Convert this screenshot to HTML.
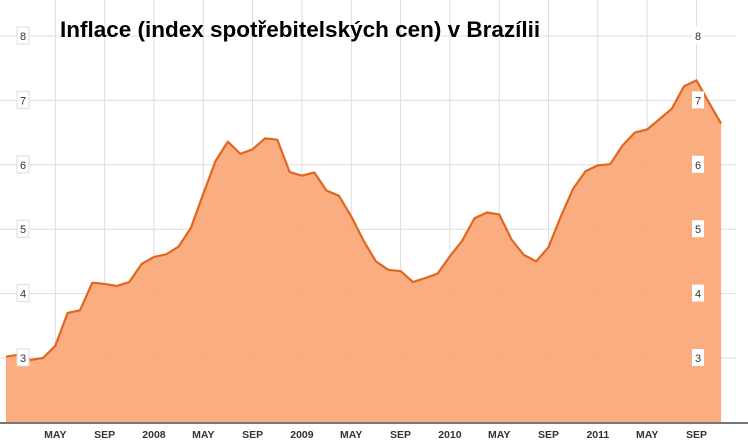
<!DOCTYPE html>
<html><head><meta charset="utf-8"><style>
body{margin:0;background:#fff;width:748px;height:443px;overflow:hidden}
svg{display:block;font-family:"Liberation Sans",Arial,sans-serif}
</style></head><body>
<svg id="c" width="748" height="443"></svg>
<script>
const values=[3.02,3.05,2.97,3.0,3.19,3.70,3.74,4.17,4.15,4.12,4.18,4.46,4.57,4.61,4.73,5.02,5.55,6.06,6.36,6.17,6.24,6.41,6.39,5.89,5.83,5.88,5.60,5.52,5.20,4.82,4.50,4.37,4.35,4.18,4.24,4.31,4.58,4.82,5.17,5.26,5.23,4.84,4.60,4.50,4.72,5.20,5.63,5.90,5.99,6.01,6.30,6.50,6.55,6.71,6.87,7.22,7.31,6.97,6.64];
const yTicks=[3,4,5,6,7,8];
const xTickIdx=[4,8,12,16,20,24,28,32,36,40,44,48,52,56];
const xTickLabels=["MAY","SEP","2008","MAY","SEP","2009","MAY","SEP","2010","MAY","SEP","2011","MAY","SEP"];
const titleText="Inflace (index spotřebitelských cen) v Brazílii";

const NS="http://www.w3.org/2000/svg";
const svg=document.getElementById('c');
const x=i=>6+i*12.33;
const y=v=>358-(v-3)*64.4;
const base=423;
function mk(t,a,p){const e=document.createElementNS(NS,t);for(const k in a)e.setAttribute(k,a[k]);(p||svg).appendChild(e);return e;}

yTicks.forEach(v=>{
  const l=mk('line',{x1:0,x2:736,y1:y(v),y2:y(v),stroke:'#ddd','stroke-width':1});
  
  
});
xTickIdx.forEach((i,k)=>{
  const l=mk('line',{x1:x(i),x2:x(i),y1:0,y2:base,stroke:'#ddd','stroke-width':1});
  
  
});

let d='M'+x(0)+','+base;
values.forEach((v,i)=>{d+=' L'+x(i).toFixed(1)+','+y(v).toFixed(1);});
d+=' L'+x(values.length-1)+','+base+' Z';
const area=mk('path',{d:d,fill:'#f9a97a',opacity:0.95});


const line=mk('polyline',{points:values.map((v,i)=>x(i).toFixed(1)+','+y(v).toFixed(1)).join(' '),fill:'none',stroke:'#e0671f','stroke-width':2.2,'stroke-linejoin':'round'});



yTicks.forEach(v=>{
  [[17,'left'],[692,'right']].forEach(([bx,side])=>{
    const r=mk('rect',{x:bx,y:y(v)-9,width:12,height:17,fill:'#fff',stroke:side==='left'?'#ddd':'none'});
    
    
    const t=mk('text',{x:bx+6,y:y(v)+4,'text-anchor':'middle','font-size':11,fill:'#333'});
    t.textContent=v;
    
    
  });
});

const ax=mk('line',{x1:0,x2:748,y1:base,y2:base,stroke:'#777','stroke-width':2});


xTickIdx.forEach((i,k)=>{
  const t=mk('text',{x:x(i),y:438,'text-anchor':'middle','font-size':10.5,'font-weight':'bold',fill:'#333'});
  t.textContent=xTickLabels[k];
  
  
});

const tt=mk('text',{x:60,y:37,'font-size':22.5,'font-weight':'bold',fill:'#000'});
tt.textContent=titleText;


</script>
</body></html>
